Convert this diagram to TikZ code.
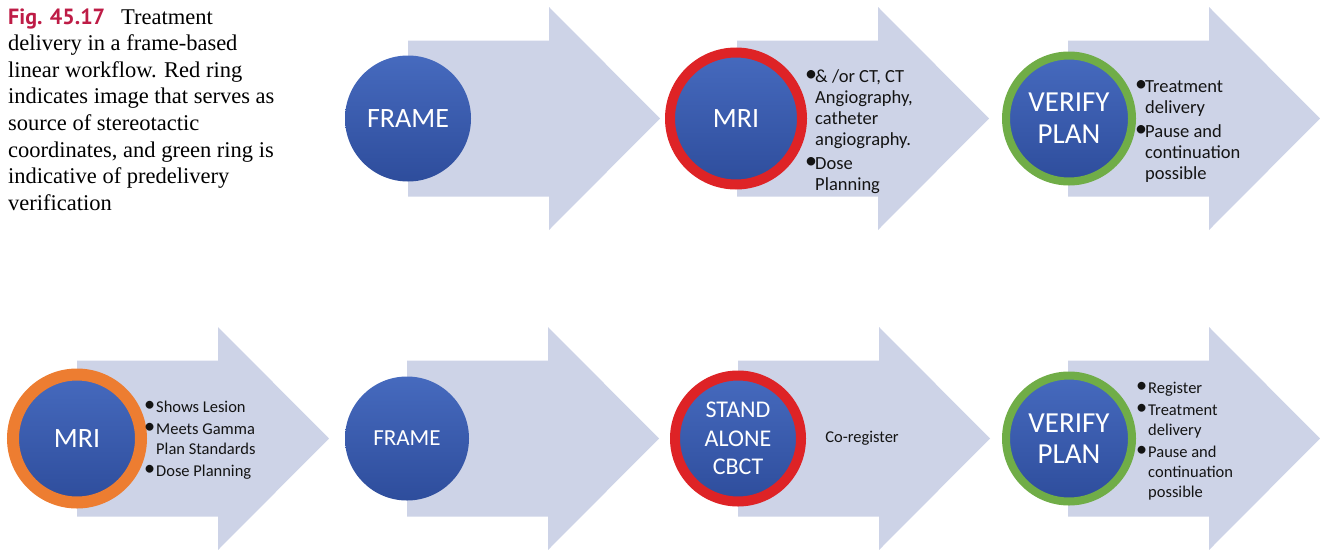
\documentclass[tikz,border=0pt]{standalone}
\usepackage{fontspec}
\setmainfont{Liberation Serif}
\newfontfamily\calfont{Carlito}
\newfontfamily\figfont{PT Sans}
\definecolor{arrowfill}{RGB}{205,211,231}
\definecolor{ballT}{RGB}{70,106,190}
\definecolor{ballB}{RGB}{46,77,156}
\definecolor{ringred}{RGB}{222,35,38}
\definecolor{ringgreen}{RGB}{112,173,71}
\definecolor{ringorange}{RGB}{237,125,49}
\definecolor{figred}{RGB}{190,28,70}
\definecolor{txt}{RGB}{20,20,20}
\newcommand\bulA{\makebox[8pt][l]{\hspace{-2pt}\raisebox{0.05ex}{\scalebox{1.3}{•}}}}
\newcommand\bulB{\makebox[10pt][l]{\hspace{-2pt}\raisebox{0.05ex}{\scalebox{1.35}{•}}}}
\begin{document}
\begin{tikzpicture}[x=1pt,y=-1pt,
  bigarrow/.pic={\fill[arrowfill] (0,-78) -- (141,-78) -- (141,-111.5) -- (252,0) -- (141,111.5) -- (141,78) -- (0,78) -- cycle;},
  ball/.style={circle, inner sep=0pt, top color=ballT, bottom color=ballB, text=white, align=center},
  bultext/.style={anchor=base west, inner sep=0pt, text=txt},
  toptext/.style={bultext, font=\calfont\fontsize{18.5}{21}\selectfont},
  bottext/.style={bultext, font=\calfont\fontsize{16.5}{20}\selectfont}
]
\useasboundingbox (0,0) rectangle (1320,549);

% caption
\node[anchor=base west, inner sep=0pt, text=black, font=\fontsize{22.5}{26.6}\selectfont] (cap) at (8,24)
{\begin{tabular}[t]{@{}l@{}}
{\figfont\bfseries\color{figred}\fontsize{22}{26.6}\selectfont Fig. 45.17}\hspace{16pt}Treatment\\
delivery in a frame-based\\
linear workflow. Red ring\\
indicates image that serves as\\
source of stereotactic\\
coordinates, and green ring is\\
indicative of predelivery\\
verification
\end{tabular}};

% top row arrows
\pic at (408,118.5) {bigarrow};
\pic at (737,118.5) {bigarrow};
\pic at (1068,118.5) {bigarrow};
% bottom row arrows
\pic at (77,438.5) {bigarrow};
\pic at (407,438.5) {bigarrow};
\pic at (738,438.5) {bigarrow};
\pic at (1068,438.5) {bigarrow};

% top row circles
\node[ball, minimum size=126pt, font=\calfont\fontsize{28}{34}\selectfont] (frameA) at (408,118.5) {FRAME};
\node[ball, minimum size=132pt, draw=ringred, line width=10pt, font=\calfont\fontsize{28}{34}\selectfont] (mriA) at (736,118.5) {MRI};
\node[ball, minimum size=126pt, draw=ringgreen, line width=8pt, font=\calfont\fontsize{29}{32}\selectfont] (verA) at (1069,118.5) {VERIFY\\PLAN};

% bottom row circles
\node[ball, minimum size=128pt, draw=ringorange, line width=12pt, font=\calfont\fontsize{28}{34}\selectfont] (mriB) at (77,438.5) {MRI};
\node[ball, minimum size=124pt, font=\calfont\fontsize{23}{28}\selectfont] (frameB) at (407,438.5) {FRAME};
\node[ball, minimum size=126pt, draw=ringred, line width=10pt, font=\calfont\fontsize{24}{28.5}\selectfont] (cbct) at (738,438.5) {STAND\\ALONE\\CBCT};
\node[ball, minimum size=126pt, draw=ringgreen, line width=8pt, font=\calfont\fontsize{29}{31}\selectfont] (verB) at (1069,438.5) {VERIFY\\PLAN};

% top row texts
\node[toptext] (mriAtxt) at (807,82)
{\begin{tabular}[t]{@{}l@{}l@{}}
\bulA&\& /or CT, CT\\
&Angiography,\\
&catheter\\
&angiography.\\[3pt]
\bulA&Dose\\
&Planning
\end{tabular}};
\node[toptext] (verAtxt) at (1137,92)
{\begin{tabular}[t]{@{}l@{}l@{}}
\bulA&Treatment\\
&delivery\\[3pt]
\bulA&Pause and\\
&continuation\\
&possible
\end{tabular}};

% bottom row texts
\node[bottext] (mriBtxt) at (146,412)
{\begin{tabular}[t]{@{}l@{}l@{}}
\bulB&Shows Lesion\\[2pt]
\bulB&Meets Gamma\\
&Plan Standards\\[2pt]
\bulB&Dose Planning
\end{tabular}};
\node[bottext, anchor=center] (cbcttxt) at (862,438) {Co-register};
\node[bottext] (verBtxt) at (1138,393)
{\begin{tabular}[t]{@{}l@{}l@{}}
\bulB&Register\\[2pt]
\bulB&Treatment\\
&delivery\\[2pt]
\bulB&Pause and\\
&continuation\\
&possible
\end{tabular}};
\end{tikzpicture}
\end{document}
